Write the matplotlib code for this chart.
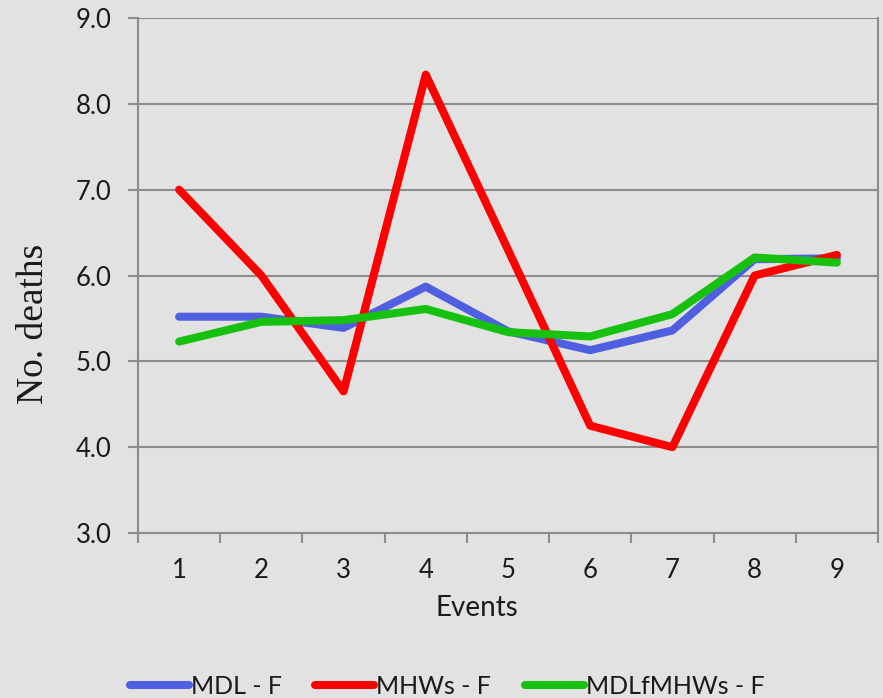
import matplotlib.pyplot as plt
from matplotlib.ticker import FixedLocator

# ── Data ──────────────────────────────────────────────────────────────────────
events = [1, 2, 3, 4, 5, 6, 7, 8, 9]
mdl_f = [5.52, 5.52, 5.39, 5.87, 5.35, 5.13, 5.36, 6.19, 6.20]
mhws_f = [7.00, 6.00, 4.65, 8.34, 6.30, 4.25, 4.00, 6.00, 6.24]
mdlfmhws_f = [5.23, 5.46, 5.48, 5.61, 5.34, 5.29, 5.55, 6.21, 6.15]
y_ticks = [3.0, 4.0, 5.0, 6.0, 7.0, 8.0, 9.0]

# ── Style ─────────────────────────────────────────────────────────────────────
BG = "#e2e2e2"
GRID = "#8c8c8c"
TXT = "#1a1a1a"
FONT = "Lato"

fig = plt.figure(figsize=(8.83, 6.98), dpi=100)
fig.patch.set_facecolor(BG)
ax = fig.add_axes([138 / 883, 1 - 533 / 698, 740 / 883, 515 / 698])
ax.set_facecolor(BG)

series = [
    (mdl_f, "#4f5fdf", "MDL - F"),
    (mhws_f, "#ff0000", "MHWs - F"),
    (mdlfmhws_f, "#17c10f", "MDLfMHWs - F"),
]
for vals, col, lab in series:
    ax.plot(events, vals, color=col, lw=5.8, label=lab,
            solid_joinstyle="round", solid_capstyle="round", zorder=3)

# ── Axes ──────────────────────────────────────────────────────────────────────
ax.set_xlim(0.5, 9.5)
ax.set_ylim(3.0, 9.0)
ax.set_yticks(y_ticks)
ax.set_yticklabels([f"{v:.1f}" for v in y_ticks], fontfamily=FONT, fontsize=18.5, color=TXT)
ax.set_xticks(events)
ax.set_xticklabels([str(e) for e in events], fontfamily=FONT, fontsize=18.5, color=TXT)
ax.xaxis.set_minor_locator(FixedLocator([e - 0.5 for e in events] + [9.5]))
ax.tick_params(axis="x", which="major", length=0, pad=18)
ax.tick_params(axis="x", which="minor", length=7, width=1.5, color=GRID)
ax.tick_params(axis="y", which="major", length=7, width=1.5, color=GRID, pad=12)

ax.yaxis.grid(True, color=GRID, lw=1.5, zorder=1)
for name, sp in ax.spines.items():
    sp.set_color(GRID)
    sp.set_linewidth(1.5)
ax.spines["top"].set_visible(False)

ax.set_xlabel("Events", fontfamily=FONT, fontsize=20, color=TXT)
ax.xaxis.set_label_coords((477 - 138) / 740, -(608 - 533) / 515)
ax.xaxis.label.set_va("center")
ax.set_ylabel("No. deaths", fontfamily="Liberation Serif", fontsize=27, color=TXT)
ax.yaxis.set_label_coords(-(138 - 34) / 740, (533 - 324) / 515)
ax.yaxis.label.set_va("center")

leg = fig.legend(loc="center", bbox_to_anchor=(447 / 883, 1 - 686 / 698), ncol=3, frameon=False,
                 prop={"family": FONT, "size": 18}, handlelength=2.35,
                 handletextpad=0.08, columnspacing=1.35, labelcolor=TXT)

fig.savefig("out.png", dpi=100, facecolor=BG)
